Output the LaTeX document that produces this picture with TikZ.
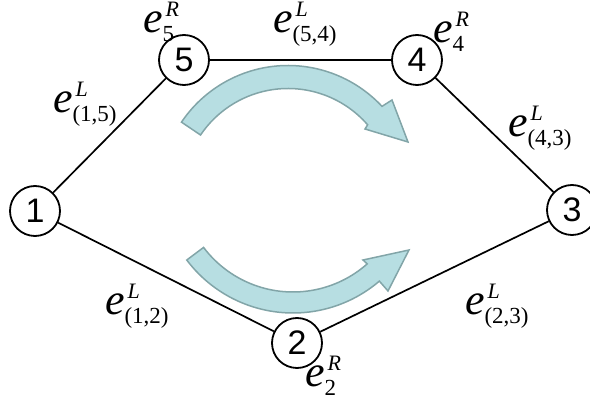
\documentclass[tikz,border=0pt]{standalone}
\usepackage{fontspec}
\setmainfont{Liberation Serif}
\newfontfamily\digitfont{Liberation Sans}
\usetikzlibrary{calc}
\definecolor{arrfill}{HTML}{B7DEE2}
\definecolor{arrdraw}{HTML}{82A5A8}
\newcommand\mylab[2]{\fontsize{44}{44}\selectfont\textit{e}\rlap{\hspace{3pt}\raisebox{16.5pt}{\fontsize{22}{22}\selectfont\textit{#1}}}\raisebox{-9pt}{\fontsize{23}{23}\selectfont #2}}
\begin{document}
\begin{tikzpicture}[x=1pt,y=1pt,
  vtx/.style={circle,draw=black,line width=1.8pt,fill=white,minimum size=50pt,inner sep=0pt,font=\digitfont\fontsize{34}{34}\selectfont},
  edge/.style={line width=1.7pt,draw=black},
  lab/.style={inner sep=0pt,outer sep=0pt,anchor=base west},
  bigarrow/.style={fill=arrfill,draw=arrdraw,line width=1.5pt,line join=miter}]
\useasboundingbox (0,0) rectangle (590,402);
% vertices
\node[vtx] (n1) at (35,191) {1};
\node[vtx] (n5) at (184,342) {5};
\node[vtx] (n4) at (417,342) {4};
\node[vtx] (n3) at (572,192) {3};
\node[vtx] (n2) at (297,59) {2};
% edges
\draw[edge] (n1) -- (n5);
\draw[edge] (n5) -- (n4);
\draw[edge] (n4) -- (n3);
\draw[edge] (n3) -- (n2);
\draw[edge] (n2) -- (n1);
% labels
\node[lab] (l5) at (143,369) {\mylab{R}{5}};
\node[lab] (l54) at (273,369) {\mylab{L}{(5,4)}};
\node[lab] (l4) at (433,359) {\mylab{R}{4}};
\node[lab] (l15) at (53,289) {\mylab{L}{(1,5)}};
\node[lab] (l43) at (508,265) {\mylab{L}{(4,3)}};
\node[lab] (l12) at (105,87) {\mylab{L}{(1,2)}};
\node[lab] (l23) at (465,87) {\mylab{L}{(2,3)}};
\node[lab] (l2) at (305,15) {\mylab{R}{2}};
% upper curved arrow
\coordinate (cu) at (288,208);
\draw[bigarrow] ($(cu)+(146:128.5pt)$) arc[start angle=146, end angle=43, radius=128.5pt]
  -- (392,302) -- (408,260) -- (365,273) -- ($(cu)+(41:105.5pt)$)
  arc[start angle=41, end angle=146, radius=105.5pt] -- cycle;
% lower curved arrow
\coordinate (cl) at (293,222);
\draw[bigarrow] ($(cl)+(217:133pt)$) arc[start angle=217, end angle=310.5, radius=133pt]
  -- (388,111) -- (409,152) -- (363,142) -- ($(cl)+(311.5:112pt)$)
  arc[start angle=311.5, end angle=217, radius=112pt] -- cycle;
\end{tikzpicture}
\end{document}
